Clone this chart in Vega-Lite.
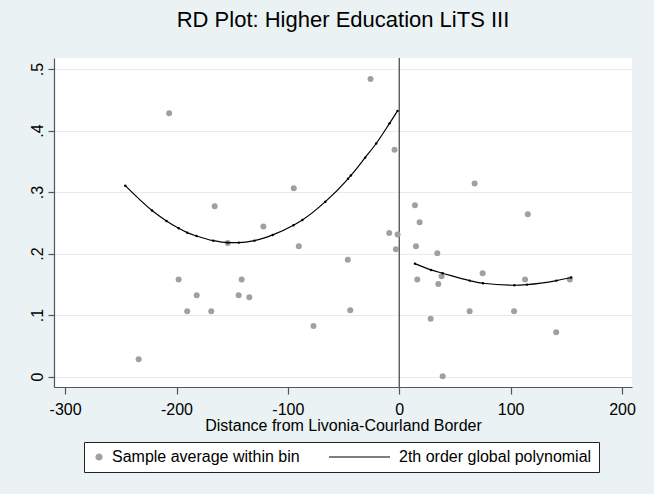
{
  "$schema": "https://vega.github.io/schema/vega-lite/v6.json",
  "width": 578,
  "height": 329,
  "autosize": {"type": "none"},
  "padding": {"left": 54, "top": 58, "right": 22, "bottom": 107},
  "background": "#EAF2F3",
  "config": {
    "view": {"fill": "white", "stroke": null},
    "font": "Liberation Sans",
    "axis": {
      "domainColor": "#555555",
      "tickColor": "#555555",
      "domainWidth": 1.2,
      "tickWidth": 1.2,
      "labelFont": "Liberation Sans",
      "titleFont": "Liberation Sans",
      "labelFontSize": 16,
      "titleFontSize": 16,
      "titleFontWeight": "normal",
      "labelColor": "black",
      "titleColor": "black",
      "labelFlush": false,
      "labelOverlap": false
    }
  },
  "title": {
    "text": "RD Plot: Higher Education LiTS III",
    "fontSize": 22,
    "fontWeight": "normal",
    "font": "Liberation Sans",
    "color": "black",
    "anchor": "middle",
    "frame": "group",
    "baseline": "alphabetic",
    "offset": 8
  },
  "datasets": {
    "bins": [
      {"x": -234, "y": 0.028, "series": "Sample average within bin"},
      {"x": -206.6, "y": 0.428, "series": "Sample average within bin"},
      {"x": -198.1, "y": 0.158, "series": "Sample average within bin"},
      {"x": -190.4, "y": 0.106, "series": "Sample average within bin"},
      {"x": -181.9, "y": 0.132, "series": "Sample average within bin"},
      {"x": -168.8, "y": 0.106, "series": "Sample average within bin"},
      {"x": -165.7, "y": 0.277, "series": "Sample average within bin"},
      {"x": -154, "y": 0.217, "series": "Sample average within bin"},
      {"x": -144.2, "y": 0.132, "series": "Sample average within bin"},
      {"x": -141.5, "y": 0.158, "series": "Sample average within bin"},
      {"x": -134.6, "y": 0.129, "series": "Sample average within bin"},
      {"x": -122, "y": 0.244, "series": "Sample average within bin"},
      {"x": -94.7, "y": 0.306, "series": "Sample average within bin"},
      {"x": -90.2, "y": 0.212, "series": "Sample average within bin"},
      {"x": -77, "y": 0.082, "series": "Sample average within bin"},
      {"x": -46.2, "y": 0.19, "series": "Sample average within bin"},
      {"x": -44, "y": 0.108, "series": "Sample average within bin"},
      {"x": -25.8, "y": 0.484, "series": "Sample average within bin"},
      {"x": -9, "y": 0.2335, "series": "Sample average within bin"},
      {"x": -4.2, "y": 0.369, "series": "Sample average within bin"},
      {"x": -3, "y": 0.207, "series": "Sample average within bin"},
      {"x": -1.5, "y": 0.231, "series": "Sample average within bin"},
      {"x": 14.1, "y": 0.2785, "series": "Sample average within bin"},
      {"x": 15, "y": 0.212, "series": "Sample average within bin"},
      {"x": 16.2, "y": 0.158, "series": "Sample average within bin"},
      {"x": 18.3, "y": 0.251, "series": "Sample average within bin"},
      {"x": 28.2, "y": 0.094, "series": "Sample average within bin"},
      {"x": 34.2, "y": 0.2005, "series": "Sample average within bin"},
      {"x": 35.1, "y": 0.1506, "series": "Sample average within bin"},
      {"x": 38, "y": 0.163, "series": "Sample average within bin"},
      {"x": 39, "y": 0.0006, "series": "Sample average within bin"},
      {"x": 63.2, "y": 0.106, "series": "Sample average within bin"},
      {"x": 67.7, "y": 0.314, "series": "Sample average within bin"},
      {"x": 74.9, "y": 0.168, "series": "Sample average within bin"},
      {"x": 103.1, "y": 0.106, "series": "Sample average within bin"},
      {"x": 113, "y": 0.158, "series": "Sample average within bin"},
      {"x": 115.4, "y": 0.264, "series": "Sample average within bin"},
      {"x": 140.9, "y": 0.072, "series": "Sample average within bin"},
      {"x": 153.2, "y": 0.158, "series": "Sample average within bin"}
    ],
    "fit": [
      {"x": -246, "y": 0.3104, "side": "left", "series": "2th order global polynomial"},
      {"x": -222, "y": 0.27, "side": "left", "series": "2th order global polynomial"},
      {"x": -209, "y": 0.253, "side": "left", "series": "2th order global polynomial"},
      {"x": -198, "y": 0.241, "side": "left", "series": "2th order global polynomial"},
      {"x": -190.4, "y": 0.234, "side": "left", "series": "2th order global polynomial"},
      {"x": -182, "y": 0.2286, "side": "left", "series": "2th order global polynomial"},
      {"x": -167, "y": 0.221, "side": "left", "series": "2th order global polynomial"},
      {"x": -154, "y": 0.2178, "side": "left", "series": "2th order global polynomial"},
      {"x": -144, "y": 0.2178, "side": "left", "series": "2th order global polynomial"},
      {"x": -130, "y": 0.221, "side": "left", "series": "2th order global polynomial"},
      {"x": -113.6, "y": 0.2303, "side": "left", "series": "2th order global polynomial"},
      {"x": -95, "y": 0.246, "side": "left", "series": "2th order global polynomial"},
      {"x": -87, "y": 0.2546, "side": "left", "series": "2th order global polynomial"},
      {"x": -66.3, "y": 0.2844, "side": "left", "series": "2th order global polynomial"},
      {"x": -46, "y": 0.3215, "side": "left", "series": "2th order global polynomial"},
      {"x": -43.4, "y": 0.327, "side": "left", "series": "2th order global polynomial"},
      {"x": -30.6, "y": 0.356, "side": "left", "series": "2th order global polynomial"},
      {"x": -20.7, "y": 0.379, "side": "left", "series": "2th order global polynomial"},
      {"x": -8.7, "y": 0.4117, "side": "left", "series": "2th order global polynomial"},
      {"x": -1.5, "y": 0.432, "side": "left", "series": "2th order global polynomial"},
      {"x": 14.1, "y": 0.1836, "side": "right", "series": "2th order global polynomial"},
      {"x": 28.5, "y": 0.1734, "side": "right", "series": "2th order global polynomial"},
      {"x": 39, "y": 0.168, "side": "right", "series": "2th order global polynomial"},
      {"x": 63.2, "y": 0.156, "side": "right", "series": "2th order global polynomial"},
      {"x": 75.2, "y": 0.1517, "side": "right", "series": "2th order global polynomial"},
      {"x": 103.4, "y": 0.1485, "side": "right", "series": "2th order global polynomial"},
      {"x": 114.8, "y": 0.1495, "side": "right", "series": "2th order global polynomial"},
      {"x": 141.2, "y": 0.156, "side": "right", "series": "2th order global polynomial"},
      {"x": 154.4, "y": 0.161, "side": "right", "series": "2th order global polynomial"}
    ],
    "cutoff": [{"x": 0}]
  },
  "layer": [
    {
      "data": {"name": "cutoff"},
      "mark": {"type": "rule", "color": "#404040", "strokeWidth": 1.2},
      "encoding": {
        "x": {"field": "x", "type": "quantitative"}
      }
    },
    {
      "data": {"name": "bins"},
      "mark": {"type": "point", "filled": true, "size": 36, "opacity": 1},
      "encoding": {
        "x": {
          "field": "x",
          "type": "quantitative",
          "scale": {"domain": [-310, 209], "nice": false, "zero": false},
          "axis": {
            "title": "Distance from Livonia-Courland Border",
            "values": [-300, -200, -100, 0, 100, 200],
            "labelExpr": "'' + datum.value",
            "grid": false,
            "tickSize": 7,
            "labelPadding": 7,
            "titlePadding": 0
          }
        },
        "y": {
          "field": "y",
          "type": "quantitative",
          "scale": {"domain": [-0.017, 0.518], "nice": false, "zero": false},
          "axis": {
            "title": null,
            "values": [0, 0.1, 0.2, 0.3, 0.4, 0.5],
            "labelExpr": "datum.value == 0 ? '0' : substring(format(datum.value, '.1f'), 1)",
            "grid": true,
            "gridColor": "#E4ECEF",
            "gridWidth": 1.2,
            "tickSize": 6,
            "labelAngle": -90,
            "labelAlign": "center",
            "labelBaseline": "alphabetic",
            "labelPadding": 6
          }
        },
        "color": {
          "field": "series",
          "type": "nominal",
          "scale": {
            "domain": ["Sample average within bin", "2th order global polynomial"],
            "range": ["#a0a0a0", "black"]
          },
          "legend": {
            "orient": "none",
            "legendX": 30,
            "legendY": 384,
            "direction": "horizontal",
            "title": null,
            "padding": 7,
            "strokeColor": "#222222",
            "fillColor": "white",
            "labelFontSize": 16,
            "labelFont": "Liberation Sans",
            "labelColor": "black",
            "labelLimit": 400,
            "labelOffset": 5,
            "columnPadding": 26,
            "symbolSize": 144,
            "symbolStrokeWidth": 1.2,
            "symbolOpacity": 1,
            "encode": {
              "symbols": {
                "update": {
                  "shape": {"signal": "datum.value === 'Sample average within bin' ? 'M -0.5 0 A 0.5 0.5 0 1 0 0.5 0 A 0.5 0.5 0 1 0 -0.5 0 Z' : 'M -9.5 0 L 0.67 0'"},
                  "fill": {"signal": "datum.value === 'Sample average within bin' ? '#a0a0a0' : 'transparent'"},
                  "stroke": {"signal": "datum.value === 'Sample average within bin' ? 'transparent' : 'black'"}
                }
              }
            }
          }
        }
      }
    },
    {
      "data": {"name": "fit"},
      "mark": {"type": "line", "strokeWidth": 1.2, "interpolate": "monotone"},
      "encoding": {
        "x": {"field": "x", "type": "quantitative"},
        "y": {"field": "y", "type": "quantitative"},
        "color": {"field": "series", "type": "nominal"},
        "detail": {"field": "side", "type": "nominal"}
      }
    },
    {
      "data": {"name": "fit"},
      "mark": {"type": "point", "filled": true, "size": 6, "color": "black", "opacity": 1},
      "encoding": {
        "x": {"field": "x", "type": "quantitative"},
        "y": {"field": "y", "type": "quantitative"}
      }
    }
  ]
}
